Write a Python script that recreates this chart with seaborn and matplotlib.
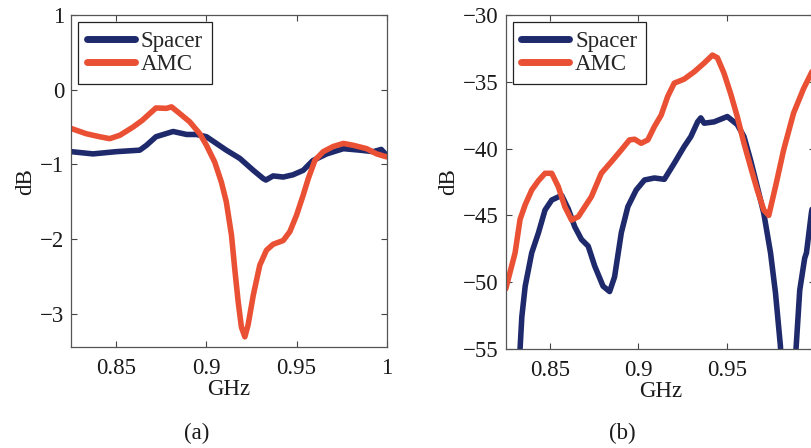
import numpy as np
import pandas as pd
import matplotlib
matplotlib.use("Agg")
import matplotlib.pyplot as plt
import seaborn as sns

# ---- panel (a): insertion loss near 0 dB ----
a_spacer_ghz = [0.825, 0.837, 0.85, 0.863, 0.8667, 0.872, 0.8815, 0.889, 0.8944, 0.9,
                0.911, 0.9185, 0.926, 0.9315, 0.933, 0.937, 0.9426, 0.948, 0.9537, 0.959,
                0.9667, 0.976, 0.9852, 0.9926, 0.997, 1.0]
a_spacer_db = [-0.83, -0.86, -0.83, -0.81, -0.745, -0.63, -0.56, -0.6, -0.6, -0.63,
               -0.81, -0.92, -1.08, -1.19, -1.21, -1.155, -1.17, -1.14, -1.08, -0.95,
               -0.86, -0.79, -0.81, -0.83, -0.8, -0.88]

a_amc_ghz = [0.825, 0.8333, 0.8407, 0.8463, 0.852, 0.8593, 0.8644, 0.8685, 0.872, 0.8778,
             0.8806, 0.8852, 0.8907, 0.8963, 0.9, 0.9046, 0.9083, 0.911, 0.9139, 0.9157,
             0.9176, 0.9194, 0.9213, 0.9231, 0.926, 0.9296, 0.9333, 0.937, 0.9426, 0.9463,
             0.95, 0.9537, 0.9565, 0.9602, 0.9648, 0.9704, 0.976, 0.9815, 0.9889, 0.9944, 1.0]
a_amc_db = [-0.52, -0.59, -0.63, -0.656, -0.61, -0.5, -0.41, -0.32, -0.245, -0.25,
            -0.23, -0.32, -0.43, -0.59, -0.745, -0.97, -1.24, -1.5, -1.95, -2.4,
            -2.84, -3.18, -3.31, -3.15, -2.75, -2.35, -2.15, -2.07, -2.02, -1.9,
            -1.68, -1.41, -1.19, -0.945, -0.83, -0.76, -0.72, -0.745, -0.79, -0.86, -0.9]

# ---- panel (b): coupling level ----
b_spacer_ghz = [0.825, 0.8331, 0.8341, 0.836, 0.8397, 0.8435, 0.8472, 0.851, 0.8566, 0.8603,
                0.864, 0.8678, 0.8716, 0.8753, 0.88, 0.8837, 0.8865, 0.8903, 0.894, 0.8987,
                0.9034, 0.909, 0.9146, 0.9202, 0.9258, 0.9296, 0.9334, 0.9352, 0.9371, 0.9427,
                0.9502, 0.9558, 0.9596, 0.9633, 0.9671, 0.9708, 0.9746, 0.9774, 0.9802, 0.9845,
                0.989, 0.9911, 0.9939, 0.9949, 0.9977, 1.0]
b_spacer_db = [-70.0, -55.0, -52.6, -50.3, -47.8, -46.3, -44.6, -43.85, -43.5, -44.5,
               -45.85, -46.8, -47.3, -48.8, -50.3, -50.7, -49.6, -46.3, -44.35, -43.1,
               -42.35, -42.2, -42.3, -41.1, -39.85, -39.1, -38.0, -37.7, -38.1, -38.0,
               -37.6, -38.2, -39.1, -40.85, -42.85, -44.85, -47.8, -50.8, -54.8, -68.0,
               -55.0, -50.6, -48.2, -47.8, -44.8, -43.0]

b_amc_ghz = [0.825, 0.8303, 0.8331, 0.836, 0.8397, 0.8435, 0.8472, 0.851, 0.8547, 0.8584,
             0.8622, 0.866, 0.8697, 0.8734, 0.879, 0.8847, 0.8903, 0.8949, 0.8978, 0.9015,
             0.9053, 0.909, 0.9128, 0.9165, 0.9202, 0.9258, 0.9315, 0.9371, 0.9418, 0.9446,
             0.9483, 0.9521, 0.9558, 0.9596, 0.9633, 0.9671, 0.9708, 0.9736, 0.9774, 0.982,
             0.9876, 0.9933, 0.998, 1.0]
b_amc_db = [-50.5, -47.8, -45.3, -44.2, -43.1, -42.4, -41.85, -41.85, -42.85, -44.35,
            -45.35, -45.1, -44.35, -43.6, -41.85, -40.98, -40.1, -39.35, -39.3, -39.6,
            -39.35, -38.35, -37.5, -36.1, -35.1, -34.8, -34.25, -33.6, -33.0, -33.2,
            -34.35, -35.9, -37.6, -39.6, -41.35, -43.1, -44.6, -45.0, -42.85, -40.1,
            -37.35, -35.5, -34.25, -33.8]

series_names = ["Spacer", "AMC"]
series_colors = {"Spacer": "#1e2a6c", "AMC": "#ea5033"}

a_yticks = [-3, -2, -1, 0, 1]
b_yticks = [-55, -50, -45, -40, -35, -30]
xticks = [0.85, 0.9, 0.95, 1.0]
xticklabels = ["0.85", "0.9", "0.95", "1"]


def frame(ghz_sp, db_sp, ghz_amc, db_amc):
    return pd.concat([
        pd.DataFrame({"GHz": ghz_sp, "dB": db_sp, "series": "Spacer"}),
        pd.DataFrame({"GHz": ghz_amc, "dB": db_amc, "series": "AMC"}),
    ], ignore_index=True)


sns.set_theme(style="ticks")
plt.rcParams["font.family"] = ["Liberation Serif", "DejaVu Serif"]
plt.rcParams["axes.unicode_minus"] = True

fig = plt.figure(figsize=(8.12, 4.48), dpi=100)
ax_a = fig.add_axes([0.0878, 0.2248, 0.3884, 0.7417])
ax_b = fig.add_axes([0.6228, 0.2210, 0.3815, 0.7455])

fs = 16.5
ink = "#1a1a1a"
panels = [
    (ax_a, frame(a_spacer_ghz, a_spacer_db, a_amc_ghz, a_amc_db), (-3.45, 1.0), a_yticks),
    (ax_b, frame(b_spacer_ghz, b_spacer_db, b_amc_ghz, b_amc_db), (-55, -30), b_yticks),
]

for ax, df, ylim, yt in panels:
    sns.lineplot(data=df, x="GHz", y="dB", hue="series", hue_order=series_names,
                 palette=series_colors, estimator=None, sort=False,
                 linewidth=4.0, ax=ax)
    ax.set_xlim(0.825, 1.0)
    ax.set_ylim(*ylim)
    ax.set_xticks(xticks)
    ax.set_xticklabels(xticklabels)
    ax.set_yticks(yt)
    ax.set_yticklabels([str(t).replace("-", "\u2212") for t in yt])
    ax.tick_params(direction="in", top=True, right=True, length=4, width=0.8,
                   labelsize=fs, colors="#444444", labelcolor=ink, pad=5)
    ax.tick_params(axis="x", pad=8)
    for s in ax.spines.values():
        s.set_color("#555555")
        s.set_linewidth(0.9)
    ax.set_xlabel("GHz", fontsize=fs, color=ink, labelpad=0)
    ax.set_ylabel("dB", fontsize=fs, color=ink, labelpad=3)
    handles, labels = ax.get_legend_handles_labels()
    leg = ax.legend(handles, labels, loc="upper left", fontsize=fs, frameon=True,
                    fancybox=False, edgecolor="#222222", framealpha=1,
                    handlelength=2.1, handletextpad=0.25, labelspacing=0.12,
                    borderaxespad=0.3, borderpad=0.38)
    leg.get_frame().set_linewidth(0.9)
    for ln in leg.get_lines():
        ln.set_linewidth(5.0)

fig.text(197 / 812, 1 - 433 / 448, "(a)", ha="center", va="center", fontsize=fs, color=ink)
fig.text(622 / 812, 1 - 433 / 448, "(b)", ha="center", va="center", fontsize=fs, color=ink)

fig.savefig("out.png", dpi=100)
